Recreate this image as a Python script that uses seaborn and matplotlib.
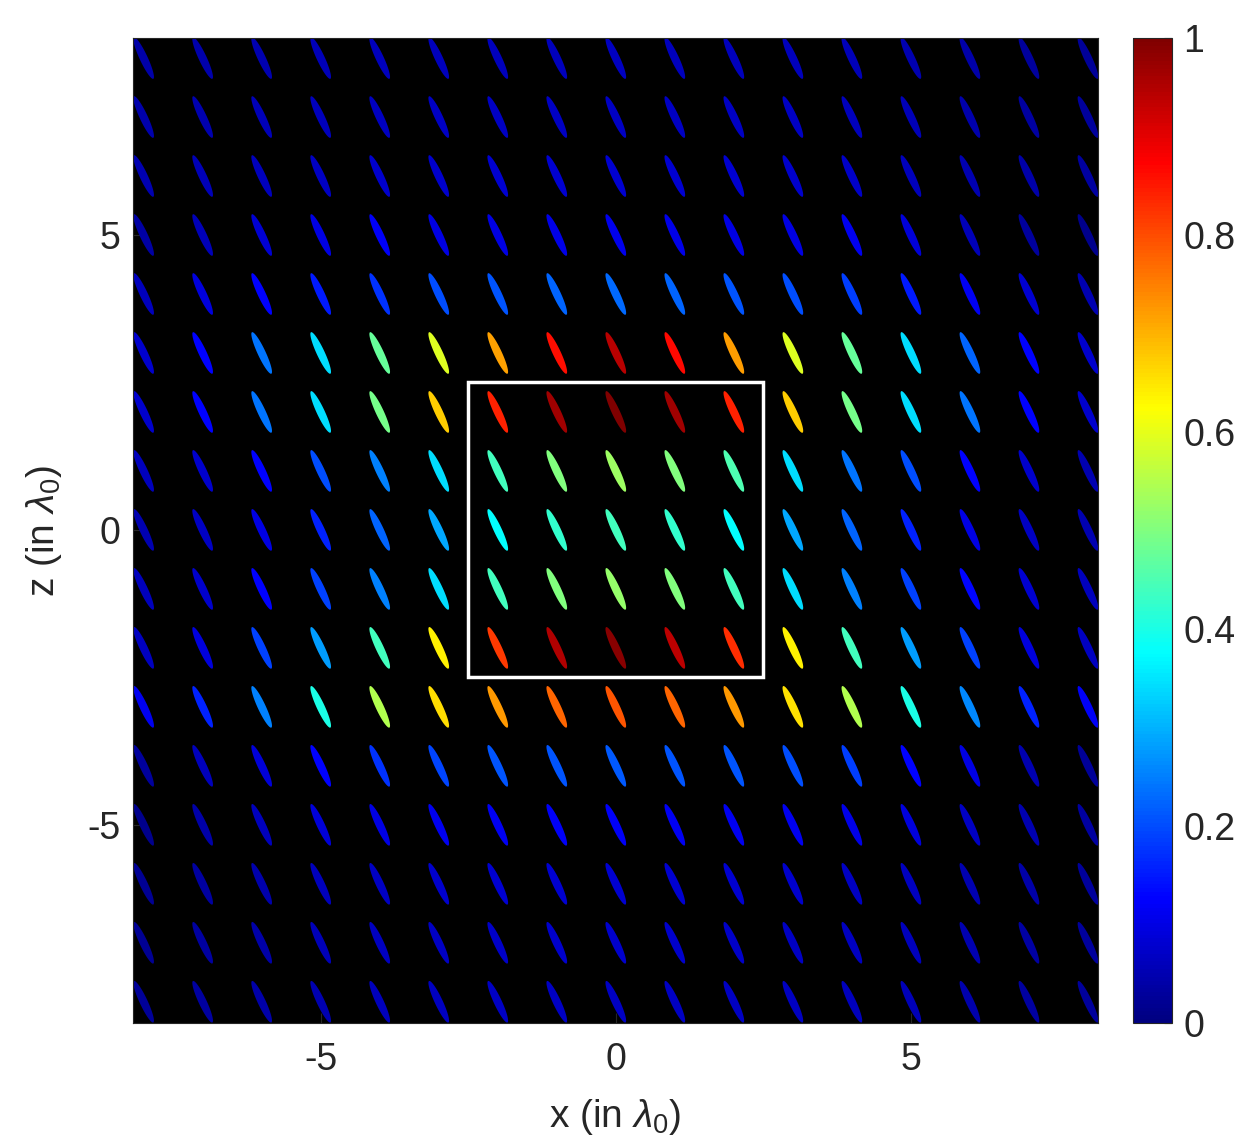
import numpy as np
import pandas as pd
import matplotlib
matplotlib.use("Agg")
import matplotlib.pyplot as plt
import seaborn as sns
from matplotlib.path import Path
from matplotlib.markers import MarkerStyle
from matplotlib.patches import Rectangle
from matplotlib.cm import ScalarMappable
from matplotlib.colors import Normalize, LinearSegmentedColormap

# ---------------- data ----------------
x_positions = list(range(-8, 9))          # x (in lambda_0)
z_positions = list(range(8, -9, -1))      # z (in lambda_0), top row first

row_z8 = [0.040, 0.045, 0.050, 0.055, 0.060, 0.060, 0.062, 0.062, 0.063, 0.062, 0.062, 0.060, 0.058, 0.050, 0.040, 0.030, 0.025]
row_z7 = [0.045, 0.050, 0.055, 0.060, 0.065, 0.068, 0.070, 0.070, 0.070, 0.070, 0.070, 0.068, 0.062, 0.055, 0.045, 0.035, 0.030]
row_z6 = [0.050, 0.055, 0.062, 0.070, 0.075, 0.078, 0.080, 0.080, 0.082, 0.080, 0.080, 0.078, 0.072, 0.062, 0.050, 0.040, 0.035]
row_z5 = [0.038, 0.055, 0.085, 0.100, 0.120, 0.100, 0.100, 0.105, 0.108, 0.105, 0.100, 0.100, 0.110, 0.088, 0.055, 0.028, 0.015]
row_z4 = [0.062, 0.090, 0.125, 0.150, 0.175, 0.200, 0.210, 0.225, 0.230, 0.225, 0.210, 0.200, 0.185, 0.150, 0.115, 0.080, 0.050]
row_z3 = [0.075, 0.125, 0.240, 0.340, 0.475, 0.590, 0.715, 0.860, 0.945, 0.865, 0.720, 0.590, 0.475, 0.340, 0.225, 0.125, 0.075]
row_z2 = [0.075, 0.125, 0.240, 0.340, 0.490, 0.675, 0.840, 0.965, 1.000, 0.965, 0.840, 0.675, 0.490, 0.340, 0.240, 0.125, 0.075]
row_z1 = [0.060, 0.075, 0.125, 0.200, 0.250, 0.340, 0.440, 0.500, 0.530, 0.500, 0.450, 0.340, 0.240, 0.200, 0.125, 0.075, 0.050]
row_z0 = [0.050, 0.070, 0.100, 0.160, 0.225, 0.290, 0.375, 0.425, 0.440, 0.425, 0.375, 0.290, 0.225, 0.160, 0.100, 0.070, 0.050]
row_zm1 = [0.060, 0.075, 0.125, 0.190, 0.250, 0.340, 0.440, 0.500, 0.520, 0.500, 0.440, 0.340, 0.250, 0.190, 0.130, 0.080, 0.060]
row_zm2 = [0.065, 0.090, 0.190, 0.280, 0.440, 0.640, 0.820, 0.950, 0.990, 0.940, 0.830, 0.640, 0.440, 0.280, 0.190, 0.090, 0.065]
row_zm3 = [0.110, 0.160, 0.250, 0.400, 0.550, 0.660, 0.725, 0.775, 0.790, 0.775, 0.725, 0.655, 0.550, 0.400, 0.260, 0.160, 0.120]
row_zm4 = [0.030, 0.060, 0.088, 0.125, 0.175, 0.195, 0.210, 0.210, 0.212, 0.210, 0.210, 0.200, 0.185, 0.125, 0.100, 0.050, 0.025]
row_zm5 = [0.013, 0.040, 0.060, 0.088, 0.100, 0.110, 0.115, 0.120, 0.120, 0.115, 0.110, 0.110, 0.105, 0.090, 0.070, 0.050, 0.035]
row_zm6 = [0.020, 0.035, 0.045, 0.060, 0.070, 0.075, 0.080, 0.080, 0.082, 0.080, 0.080, 0.075, 0.070, 0.065, 0.050, 0.040, 0.030]
row_zm7 = [0.020, 0.032, 0.042, 0.055, 0.065, 0.070, 0.073, 0.075, 0.075, 0.075, 0.073, 0.070, 0.065, 0.060, 0.048, 0.038, 0.028]
row_zm8 = [0.025, 0.032, 0.040, 0.050, 0.060, 0.065, 0.068, 0.070, 0.070, 0.070, 0.068, 0.065, 0.060, 0.055, 0.045, 0.035, 0.028]

rows = [row_z8, row_z7, row_z6, row_z5, row_z4, row_z3, row_z2, row_z1, row_z0,
        row_zm1, row_zm2, row_zm3, row_zm4, row_zm5, row_zm6, row_zm7, row_zm8]

xticks = [-5, 0, 5]
zticks = [-5, 0, 5]
cbar_ticks = [0, 0.2, 0.4, 0.6, 0.8, 1]
cbar_labels = ["0", "0.2", "0.4", "0.6", "0.8", "1"]
box_x = [-2.5, 2.5]
box_z = [-2.5, 2.5]

records = []
for z, row in zip(z_positions, rows):
    for x, v in zip(x_positions, row):
        records.append({"x": x, "z": z, "value": v})
df = pd.DataFrame(records)

# ---------------- style ----------------
sns.set_theme(style="ticks")
plt.rcParams["font.family"] = ["Liberation Sans", "DejaVu Sans"]
plt.rcParams["mathtext.fontset"] = "custom"
plt.rcParams["mathtext.rm"] = "Liberation Sans"
plt.rcParams["mathtext.it"] = "Liberation Sans:italic"
text_color = "#262626"

# MATLAB-style jet
jet = LinearSegmentedColormap.from_list(
    "matlab_jet",
    [(0.0, (0, 0, 0.5)), (0.125, (0, 0, 1)), (0.375, (0, 1, 1)),
     (0.625, (1, 1, 0)), (0.875, (1, 0, 0)), (1.0, (0.5, 0, 0))], N=256)

fig = plt.figure(figsize=(12.41, 11.42), dpi=100)
ax = fig.add_axes([133 / 1241, 1 - 1023 / 1142, 965 / 1241, 985 / 1142])
ax.set_facecolor("black")

# rotated thin ellipse marker
theta = np.deg2rad(-65.0)
a_len, b_len = 22.9, 4.0
t = np.linspace(0, 2 * np.pi, 90)
ex = a_len * np.cos(t) * np.cos(theta) - b_len * np.sin(t) * np.sin(theta)
ey = a_len * np.cos(t) * np.sin(theta) + b_len * np.sin(t) * np.cos(theta)
verts = np.column_stack([ex, ey])
ell_marker = MarkerStyle(Path(verts, closed=True))
half_h_pt = np.max(np.abs(verts)) * 72 / 100
msize = (2 * half_h_pt) ** 2

sns.scatterplot(data=df, x="x", y="z", hue="value", palette=jet,
                hue_norm=(0, 1), marker=ell_marker, s=msize,
                linewidth=0, edgecolor="none", legend=False, ax=ax, zorder=2)

ax.add_patch(Rectangle((box_x[0], box_z[0]), box_x[1] - box_x[0], box_z[1] - box_z[0],
                       fill=False, edgecolor="white", linewidth=2.5, zorder=3))

ax.set_xlim(-8.18, 8.17)
ax.set_ylim(-8.36, 8.34)
ax.set_xticks(xticks)
ax.set_yticks(zticks)
ax.set_xticklabels([str(v) for v in xticks])
ax.set_yticklabels([str(v) for v in zticks])
ax.tick_params(direction="in", length=7, width=0.8, colors=text_color,
               labelsize=27)
ax.tick_params(axis="x", pad=14)
ax.tick_params(axis="y", pad=9)
for sp in ax.spines.values():
    sp.set_color(text_color)
    sp.set_linewidth(0.8)
ax.set_xlabel(r"x (in $\lambda_0$)", fontsize=28, color=text_color)
ax.set_ylabel(r"z (in $\lambda_0$)", fontsize=28, color=text_color)
ax.xaxis.set_label_coords(0.5, (1023 - 1097) / 985)
ax.yaxis.set_label_coords((64 - 133) / 965, 0.5)

# colorbar
cax = fig.add_axes([1133 / 1241, 1 - 1023 / 1142, 39 / 1241, 985 / 1142])
sm = ScalarMappable(norm=Normalize(0, 1), cmap=jet)
cb = fig.colorbar(sm, cax=cax)
cb.set_ticks(cbar_ticks)
cb.set_ticklabels(cbar_labels)
cb.ax.tick_params(direction="in", length=6, width=0.8, colors=text_color,
                  labelsize=27, pad=8)
cb.outline.set_edgecolor(text_color)
cb.outline.set_linewidth(0.8)

fig.savefig("out.png", dpi=100)
